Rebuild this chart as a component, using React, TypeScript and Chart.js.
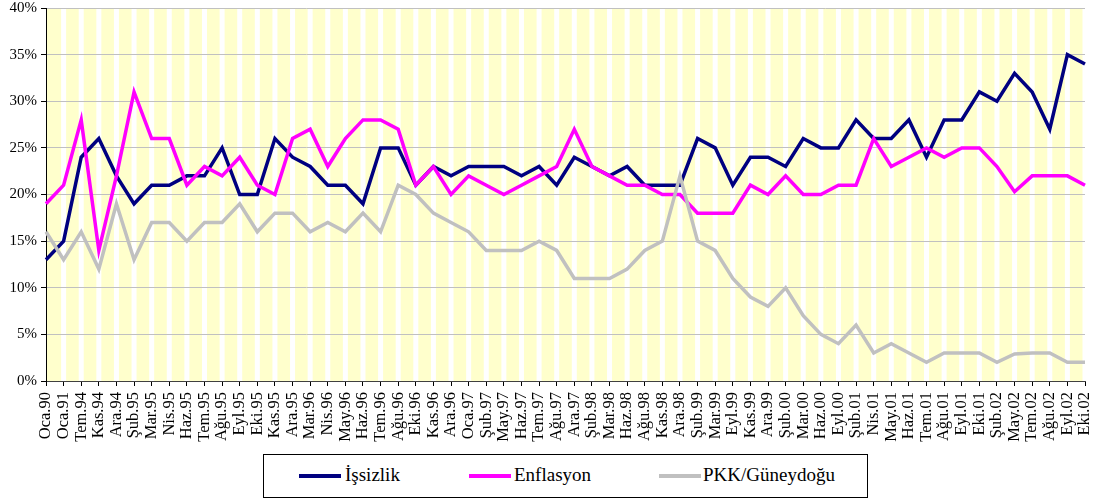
import React, { useEffect, useRef } from "react";
import { Chart, registerables } from "chart.js";

Chart.register(...registerables);

const labels: string[] = [
  "Oca.90", "Oca.91", "Tem.94", "Kas.94", "Ara.94", "Şub.95", "Mar.95", "Nis.95", "Haz.95", "Tem.95",
  "Ağu.95", "Eyl.95", "Eki.95", "Kas.95", "Ara.95", "Mar.96", "Nis.96", "May.96", "Haz.96", "Tem.96",
  "Ağu.96", "Eki.96", "Kas.96", "Ara.96", "Oca.97", "Şub.97", "May.97", "Haz.97", "Tem.97", "Ağu.97",
  "Ara.97", "Şub.98", "Mar.98", "Haz.98", "Ağu.98", "Kas.98", "Ara.98", "Şub.99", "Mar.99", "Eyl.99",
  "Kas.99", "Ara.99", "Şub.00", "Mar.00", "Haz.00", "Eyl.00", "Şub.01", "Nis.01", "May.01", "Haz.01",
  "Tem.01", "Ağu.01", "Eyl.01", "Eki.01", "Şub.02", "May.02", "Tem.02", "Ağu.02", "Eyl.02", "Eki.02",
];

const issizlik: number[] = [
  13, 15, 24, 26, 22, 19, 21, 21, 22, 22,
  25, 20, 20, 26, 24, 23, 21, 21, 19, 25,
  25, 21, 23, 22, 23, 23, 23, 22, 23, 21,
  24, 23, 22, 23, 21, 21, 21, 26, 25, 21,
  24, 24, 23, 26, 25, 25, 28, 26, 26, 28,
  24, 28, 28, 31, 30, 33, 31, 27, 35, 34,
];

const enflasyon: number[] = [
  19, 21, 28, 14, 22, 31, 26, 26, 21, 23,
  22, 24, 21, 20, 26, 27, 23, 26, 28, 28,
  27, 21, 23, 20, 22, 21, 20, 21, 22, 23,
  27, 23, 22, 21, 21, 20, 20, 18, 18, 18,
  21, 20, 22, 20, 20, 21, 21, 26, 23, 24,
  25, 24, 25, 25, 23, 20.3, 22, 22, 22, 21,
];

const pkk: number[] = [
  16, 13, 16, 12, 19, 13, 17, 17, 15, 17,
  17, 19, 16, 18, 18, 16, 17, 16, 18, 16,
  21, 20, 18, 17, 16, 14, 14, 14, 15, 14,
  11, 11, 11, 12, 14, 15, 22, 15, 14, 11,
  9, 8, 10, 7, 5, 4, 6, 3, 4, 3,
  2, 3, 3, 3, 2, 2.9, 3, 3, 2, 2,
];

const yTicks: number[] = [0, 5, 10, 15, 20, 25, 30, 35, 40];

const seriesNames = ["İşsizlik", "Enflasyon", "PKK/Güneydoğu"];
const seriesColors = ["#000080", "#FF00FF", "#C0C0C0"];

const FONT = "'Liberation Serif', 'Times New Roman', serif";

const bgPlugin = {
  id: "stripes",
  beforeDraw(chart: any) {
    const { ctx, chartArea } = chart;
    const xs = chart.scales.x;
    ctx.save();
    ctx.fillStyle = "#FFFFCC";
    ctx.fillRect(chartArea.left, chartArea.top, chartArea.right - chartArea.left, chartArea.bottom - chartArea.top);
    ctx.strokeStyle = "#FFFFFF";
    ctx.lineWidth = 5;
    for (let i = 1; i < labels.length; i++) {
      const x = xs.getPixelForTick(i);
      ctx.beginPath();
      ctx.moveTo(x, chartArea.top);
      ctx.lineTo(x, chartArea.bottom);
      ctx.stroke();
    }
    ctx.restore();
  },
};

export default function App() {
  const canvasRef = useRef<HTMLCanvasElement | null>(null);

  useEffect(() => {
    document.body.style.margin = "0";
    const canvas = canvasRef.current;
    if (!canvas) return;
    const data = [issizlik, enflasyon, pkk];
    const chart = new Chart(canvas, {
      type: "line",
      data: {
        labels,
        datasets: data.map((d, i) => ({
          label: seriesNames[i],
          data: d,
          borderColor: seriesColors[i],
          backgroundColor: seriesColors[i],
          borderWidth: 3.5,
          pointRadius: 0,
          tension: 0,
          fill: false,
          order: 2 - i,
        })),
      },
      options: {
        responsive: false,
        animation: false,
        layout: { padding: { top: 8, right: 9, left: 0, bottom: 0 } },
        plugins: {
          legend: { display: false },
          tooltip: { enabled: false },
        },
        scales: {
          x: {
            type: "category",
            offset: false,
            afterFit: (s: any) => {
              s.height = 120;
              s.paddingLeft = 0;
              s.paddingRight = 0;
            },
            grid: {
              drawOnChartArea: false,
              drawTicks: true,
              tickLength: 5,
              tickColor: "#000000",
              tickWidth: 1,
            },
            border: { color: "#404040", width: 1 },
            ticks: {
              autoSkip: false,
              minRotation: 90,
              maxRotation: 90,
              padding: 6,
              color: "#000000",
              font: { family: FONT, size: 16.5 },
            },
          },
          y: {
            min: 0,
            max: 40,
            afterFit: (s: any) => {
              s.width = 46;
              s.paddingTop = 0;
              s.paddingBottom = 0;
            },
            afterBuildTicks: (s: any) => {
              s.ticks = yTicks.map((v) => ({ value: v }));
            },
            grid: {
              color: "#C0C0C0",
              lineWidth: 1,
              drawTicks: true,
              tickLength: 5,
              tickColor: "#000000",
            },
            border: { color: "#000000", width: 1 },
            ticks: {
              padding: 4,
              color: "#000000",
              font: { family: FONT, size: 15 },
              callback: (v: any) => `${v}%`,
            },
          },
        },
      },
      plugins: [bgPlugin],
    });
    return () => chart.destroy();
  }, []);

  const legendItems = [
    { line: 298, text: 344 },
    { line: 468, text: 513 },
    { line: 658, text: 702 },
  ];

  return (
    <div style={{ position: "relative", width: 1094, height: 501 }}>
      <canvas ref={canvasRef} width={1094} height={501} style={{ width: 1094, height: 501, display: "block" }} />
      <div
        style={{
          position: "absolute",
          left: 263,
          top: 454,
          width: 605,
          height: 44,
          border: "1px solid #000",
          boxSizing: "border-box",
          background: "#fff",
        }}
      >
        {legendItems.map((it, i) => (
          <React.Fragment key={i}>
            <div
              style={{
                position: "absolute",
                left: it.line - 263,
                top: 19,
                width: 42,
                height: 4,
                background: seriesColors[i],
              }}
            />
            <span
              style={{
                position: "absolute",
                left: it.text - 263,
                top: 8,
                fontFamily: FONT,
                fontSize: 19,
                lineHeight: "24px",
                color: "#000",
                whiteSpace: "nowrap",
              }}
            >
              {seriesNames[i]}
            </span>
          </React.Fragment>
        ))}
      </div>
    </div>
  );
}
